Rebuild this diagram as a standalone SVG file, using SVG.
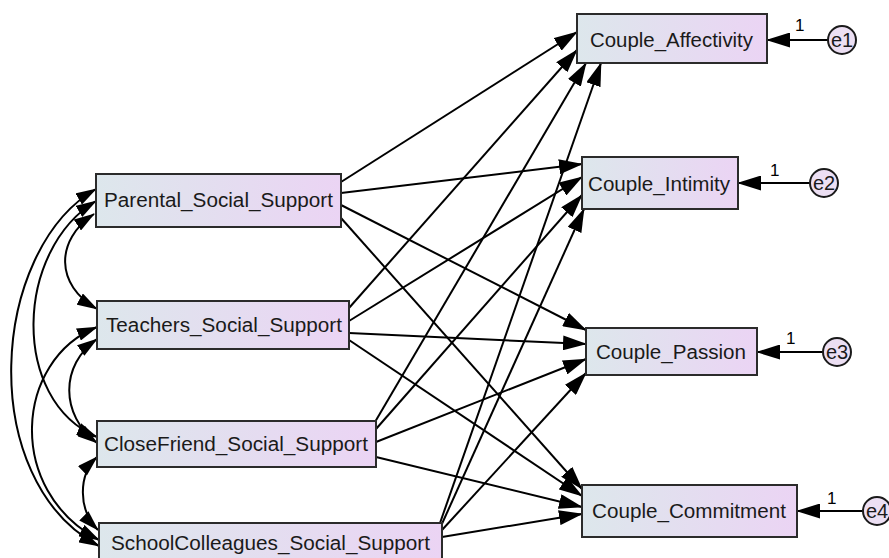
<svg xmlns="http://www.w3.org/2000/svg" width="889" height="558" viewBox="0 0 889 558">
<style>
.box{stroke:#2b2b2b;stroke-width:2;fill:url(#g)}
.t{font-family:"Liberation Sans",Arial,sans-serif;font-size:20px;fill:#1a1a1a}
.n{font-family:"Liberation Sans",Arial,sans-serif;font-size:17px;fill:#000}
.err{stroke:#1a1a1a;stroke-width:2;fill:#ecdff3}
.c line,.c path{stroke:#000;stroke-width:2;fill:none}
.c line{marker-end:url(#ah)}
.c path{marker-start:url(#ahc);marker-end:url(#ahc)}
</style>
<defs>
<linearGradient id="g" x1="0" y1="0" x2="1" y2="0">
<stop offset="0" stop-color="#dde7ec"/>
<stop offset="1" stop-color="#ebd4f4"/>
</linearGradient>
<marker id="ah" markerUnits="userSpaceOnUse" markerWidth="24" markerHeight="15" viewBox="0 0 24 15" refX="23" refY="7.5" orient="auto"><path d="M0,0L24,7.5L0,15z" fill="#000"/></marker>
<marker id="ahc" markerUnits="userSpaceOnUse" markerWidth="21" markerHeight="13" viewBox="0 0 21 13" refX="20" refY="6.5" orient="auto-start-reverse"><path d="M0,0L21,6.5L0,13z" fill="#000"/></marker>
</defs>
<g id="connectors" class="c">
<line x1="341" y1="182" x2="577" y2="32"/>
<line x1="341" y1="193" x2="582" y2="164"/>
<line x1="341" y1="205" x2="586" y2="330"/>
<line x1="341" y1="218" x2="582" y2="489"/>
<line x1="349" y1="308" x2="577" y2="50"/>
<line x1="349" y1="321" x2="582" y2="177"/>
<line x1="349" y1="333" x2="586" y2="344"/>
<line x1="349" y1="340" x2="582" y2="496"/>
<line x1="375" y1="422" x2="586" y2="63"/>
<line x1="376" y1="429" x2="582" y2="195"/>
<line x1="376" y1="442" x2="586" y2="359"/>
<line x1="376" y1="457" x2="582" y2="507"/>
<line x1="440" y1="523" x2="601" y2="63"/>
<line x1="441" y1="526" x2="584" y2="209"/>
<line x1="442" y1="530" x2="586" y2="373"/>
<line x1="442" y1="537" x2="582" y2="514"/>
<line x1="828" y1="40" x2="767" y2="40"/>
<line x1="810" y1="183" x2="738" y2="183"/>
<line x1="823" y1="352" x2="757" y2="352"/>
<line x1="863" y1="511" x2="797" y2="511"/>
<path d="M96,189 C-10,250 -25,480 99,546"/>
<path d="M96,201 C15,250 10,400 97,437"/>
<path d="M94,214 C55,240 55,285 97,309"/>
<path d="M97,327 C15,360 5,490 99,540"/>
<path d="M97,339 C60,365 60,415 97,443"/>
<path d="M97,457 C78,475 78,510 98,530"/>
</g>
<g id="parental"><rect class="box" x="96" y="174" width="245" height="53"/><text class="t" x="104" y="207" textLength="229" lengthAdjust="spacingAndGlyphs">Parental_Social_Support</text></g>
<g id="teachers"><rect class="box" x="97" y="301" width="252" height="48"/><text class="t" x="106" y="332" textLength="236" lengthAdjust="spacingAndGlyphs">Teachers_Social_Support</text></g>
<g id="closefriend"><rect class="box" x="97" y="421" width="279" height="46"/><text class="t" x="104" y="451" textLength="264" lengthAdjust="spacingAndGlyphs">CloseFriend_Social_Support</text></g>
<g id="schoolcolleagues"><rect class="box" x="99" y="523" width="343" height="40"/><text class="t" x="111" y="550" textLength="319" lengthAdjust="spacingAndGlyphs">SchoolColleagues_Social_Support</text></g>
<g id="affectivity"><rect class="box" x="577" y="14" width="190" height="49"/><text class="t" x="590" y="47" textLength="163" lengthAdjust="spacingAndGlyphs">Couple_Affectivity</text></g>
<g id="intimity"><rect class="box" x="582" y="157" width="156" height="52"/><text class="t" x="588" y="191" textLength="142" lengthAdjust="spacingAndGlyphs">Couple_Intimity</text></g>
<g id="passion"><rect class="box" x="586" y="328" width="171" height="47"/><text class="t" x="596" y="359" textLength="150" lengthAdjust="spacingAndGlyphs">Couple_Passion</text></g>
<g id="commitment"><rect class="box" x="582" y="485" width="215" height="52"/><text class="t" x="592" y="518" textLength="194" lengthAdjust="spacingAndGlyphs">Couple_Commitment</text></g>
<g id="e1"><circle class="err" cx="842" cy="40" r="14"/><text class="t" x="842" y="47" text-anchor="middle" font-size="19">e1</text><text class="n" x="795" y="31">1</text></g>
<g id="e2"><circle class="err" cx="824" cy="183" r="14"/><text class="t" x="824" y="190" text-anchor="middle" font-size="19">e2</text><text class="n" x="770" y="176">1</text></g>
<g id="e3"><circle class="err" cx="837" cy="352" r="14"/><text class="t" x="837" y="359" text-anchor="middle" font-size="19">e3</text><text class="n" x="786" y="344">1</text></g>
<g id="e4"><circle class="err" cx="877" cy="511" r="14"/><text class="t" x="877" y="518" text-anchor="middle" font-size="19">e4</text><text class="n" x="827" y="504">1</text></g>
</svg>
